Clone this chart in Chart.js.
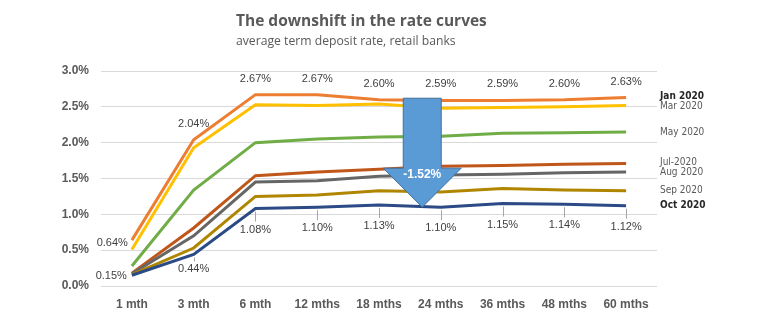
<!DOCTYPE html>
<html>
<head>
<meta charset="utf-8">
<script src="https://cdn.jsdelivr.net/npm/chart.js@4.4.1/dist/chart.umd.min.js"></script>
<style>
  html, body { margin: 0; padding: 0; background: #fff; }
  #wrap { width: 760px; height: 325px; }
</style>
</head>
<body>
<div id="wrap"><canvas id="rateCurves" width="760" height="325"></canvas></div>
<script>
// term deposit rates (%) by term, one curve per month
const terms = ['1 mth', '3 mth', '6 mth', '12 mths', '18 mths', '24 mths', '36 mths', '48 mths', '60 mths'];
const jan2020 = [0.64, 2.04, 2.67, 2.67, 2.60, 2.59, 2.59, 2.60, 2.63];
const mar2020 = [0.51, 1.93, 2.53, 2.52, 2.54, 2.48, 2.49, 2.50, 2.52];
const may2020 = [0.28, 1.34, 2.00, 2.05, 2.08, 2.09, 2.13, 2.14, 2.15];
const jul2020 = [0.18, 0.81, 1.54, 1.59, 1.63, 1.67, 1.68, 1.70, 1.71];
const aug2020 = [0.17, 0.70, 1.45, 1.47, 1.53, 1.55, 1.56, 1.58, 1.59];
const sep2020 = [0.16, 0.53, 1.25, 1.27, 1.33, 1.31, 1.36, 1.34, 1.33];
const oct2020 = [0.15, 0.44, 1.08, 1.10, 1.13, 1.10, 1.15, 1.14, 1.12];
const seriesNames = ['Jan 2020', 'Mar 2020', 'May 2020', 'Jul-2020', 'Aug 2020', 'Sep 2020', 'Oct 2020'];

// the fall from January to October
const shiftFrom = 2.62;
const shiftDrop = 1.52;
const shiftAt = 4.7; // between 18 and 24 mths

const seriesData = [jan2020, mar2020, may2020, jul2020, aug2020, sep2020, oct2020];
const colors = ['#ED7D31', '#FFC000', '#70AD47', '#C0561A', '#666666', '#B08600', '#2C4A86'];

const GREY = '#595959';

const datasets = seriesData.map((d, i) => ({
  label: seriesNames[i],
  data: d,
  borderColor: colors[i],
  backgroundColor: colors[i],
  borderWidth: 3,
  pointRadius: 0,
  tension: 0,
  order: seriesData.length - i
}));

const fmt = v => v.toFixed(2) + '%';

function leader(ctx, px, y0, y1) {
  ctx.strokeStyle = '#A6A6A6';
  ctx.lineWidth = 1;
  ctx.beginPath();
  ctx.moveTo(Math.round(px) + 0.5, y0);
  ctx.lineTo(Math.round(px) + 0.5, y1);
  ctx.stroke();
}

const decorations = {
  id: 'decorations',
  afterDatasetsDraw(chart) {
    const { ctx, scales: { x, y }, chartArea } = chart;
    ctx.save();

    // value labels for January (above) and October (below)
    ctx.font = '11px "Liberation Sans", Arial, sans-serif';
    ctx.fillStyle = '#404040';
    ctx.textBaseline = 'middle';
    jan2020.forEach((v, i) => {
      const px = x.getPixelForValue(i), py = y.getPixelForValue(v);
      if (i === 0) {
        ctx.textAlign = 'right';
        ctx.fillText(fmt(v), px - 4, py + 3);
      } else {
        ctx.textAlign = 'center';
        ctx.fillText(fmt(v), px, py - 16);
      }
    });
    oct2020.forEach((v, i) => {
      const px = x.getPixelForValue(i), py = y.getPixelForValue(v);
      if (i === 0) {
        ctx.textAlign = 'right';
        ctx.fillText(fmt(v), px - 5, py + 1);
      } else if (i === 1) {
        leader(ctx, px, py + 3, py + 7);
        ctx.textAlign = 'center';
        ctx.fillText(fmt(v), px, py + 15);
      } else {
        leader(ctx, px, py + 3, py + 13);
        ctx.textAlign = 'center';
        ctx.fillText(fmt(v), px, py + 21);
      }
    });

    // series names at the right end of each curve, spread so they don't collide
    const last = terms.length - 1;
    const ys = seriesData.map(d => y.getPixelForValue(d[last]));
    for (let k = 0; k < 4; k++) {
      for (let i = 1; i < ys.length; i++) {
        const gap = ys[i] - ys[i - 1];
        if (gap < 10) {
          const push = (10 - gap) / 2;
          ys[i - 1] -= push;
          ys[i] += push;
        }
      }
    }
    ctx.textAlign = 'left';
    seriesNames.forEach((name, i) => {
      const bold = i === 0 || i === seriesNames.length - 1;
      ctx.font = (bold ? 'bold ' : '') + '10px "DejaVu Sans Condensed", "Liberation Sans Narrow", sans-serif';
      ctx.fillStyle = bold ? '#262626' : GREY;
      ctx.fillText(name, chartArea.right + 3, ys[i]);
    });

    // down arrow
    const cx = x.getPixelForValue(shiftAt);
    const top = y.getPixelForValue(shiftFrom);
    const tip = y.getPixelForValue(shiftFrom - shiftDrop);
    const shaftW = 19, headW = 39, headH = 39;
    ctx.beginPath();
    ctx.moveTo(cx - shaftW, top);
    ctx.lineTo(cx + shaftW, top);
    ctx.lineTo(cx + shaftW, tip - headH);
    ctx.lineTo(cx + headW, tip - headH);
    ctx.lineTo(cx, tip);
    ctx.lineTo(cx - headW, tip - headH);
    ctx.lineTo(cx - shaftW, tip - headH);
    ctx.closePath();
    ctx.fillStyle = '#5B9BD5';
    ctx.fill();
    ctx.strokeStyle = '#41719C';
    ctx.lineWidth = 1;
    ctx.stroke();
    ctx.fillStyle = '#FFFFFF';
    ctx.font = 'bold 12px "Liberation Sans", Arial, sans-serif';
    ctx.textAlign = 'center';
    ctx.fillText('-' + shiftDrop.toFixed(2) + '%', cx, tip - 32);

    ctx.restore();
  },
  afterDraw(chart) {
    const { ctx } = chart;
    ctx.save();
    ctx.textAlign = 'left';
    ctx.textBaseline = 'middle';
    ctx.fillStyle = GREY;
    ctx.font = 'bold 15.5px "Open Sans", sans-serif';
    ctx.fillText('The downshift in the rate curves', 236, 22);
    ctx.font = '12.2px "Open Sans", sans-serif';
    ctx.fillText('average term deposit rate, retail banks', 236, 42);
    ctx.restore();
  }
};

new Chart(document.getElementById('rateCurves'), {
  type: 'line',
  data: { labels: terms, datasets },
  options: {
    responsive: false,
    animation: false,
    layout: { padding: { top: 71, right: 103, left: 0, bottom: 0 } },
    plugins: {
      legend: { display: false },
      tooltip: { enabled: false },
      title: { display: false }
    },
    scales: {
      x: {
        offset: true,
        afterFit: s => { s.height = 39; },
        grid: { display: false, drawTicks: false },
        border: { display: false },
        ticks: {
          padding: 11,
          color: GREY,
          font: { family: '"Liberation Sans", Arial, sans-serif', size: 12, weight: 'bold' }
        }
      },
      y: {
        min: 0,
        max: 3,
        afterFit: s => { s.width = 101; },
        grid: { color: '#D9D9D9', drawTicks: false },
        border: { display: false },
        ticks: {
          stepSize: 0.5,
          padding: 12,
          color: GREY,
          font: { family: '"Liberation Sans", Arial, sans-serif', size: 12, weight: 'bold' },
          callback: v => v.toFixed(1) + '%'
        }
      }
    }
  },
  plugins: [decorations]
});
</script>
</body>
</html>
